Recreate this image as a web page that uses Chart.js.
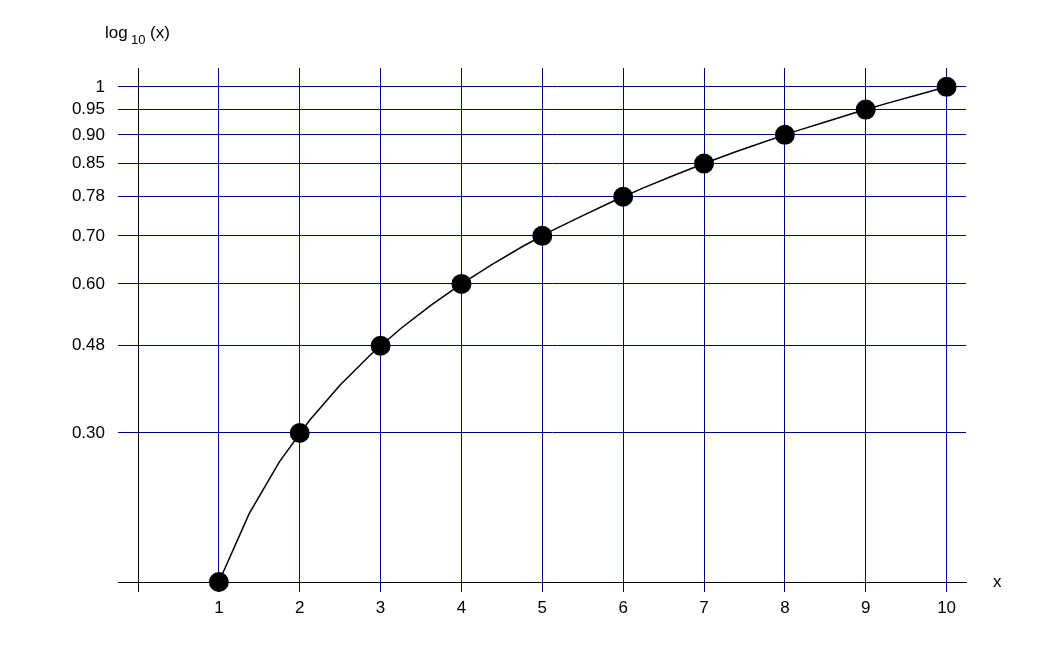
<!DOCTYPE html>
<html>
<head>
<meta charset="utf-8">
<script src="https://cdn.jsdelivr.net/npm/chart.js@4.4.0/dist/chart.umd.min.js"></script>
<style>
  body { margin: 0; background: #fff; }
</style>
</head>
<body>
<canvas id="myChart" width="1044" height="652"></canvas>
<script>
// curve samples (x, log10 x)
const curveX = [1, 1.375, 1.75, 2.125, 2.5, 2.875, 3.25, 3.625, 4, 4.375, 4.75, 5.125, 5.5, 5.875, 6.25, 6.625, 7, 7.375, 7.75, 8.125, 8.5, 8.875, 9.25, 9.625, 10];
const curveY = [0, 0.138, 0.243, 0.327, 0.398, 0.459, 0.512, 0.559, 0.602, 0.641, 0.677, 0.710, 0.740, 0.769, 0.796, 0.821, 0.845, 0.868, 0.889, 0.910, 0.929, 0.948, 0.966, 0.983, 1];

// marked points
const dotX = [1, 2, 3, 4, 5, 6, 7, 8, 9, 10];
const dotY = [0, 0.301, 0.477, 0.602, 0.699, 0.778, 0.845, 0.903, 0.954, 1];

// axis ticks
const xTicks = [0, 1, 2, 3, 4, 5, 6, 7, 8, 9, 10];
const xLabels = ['', '1', '2', '3', '4', '5', '6', '7', '8', '9', '10'];
const yTicks = [0, 0.301, 0.477, 0.602, 0.699, 0.778, 0.845, 0.903, 0.954, 1];
const yLabels = ['', '0.30', '0.48', '0.60', '0.70', '0.78', '0.85', '0.90', '0.95', '1'];

const FONT = "'Liberation Sans', Arial, sans-serif";
const NAVY = '#000080';

function gridColor(c) {
    return (c.tick && c.tick.value === 0) ? '#000' : NAVY;
}

const titles = {
    id: 'titles',
    afterDraw(chart) {
        const g = chart.ctx;
        g.save();
        g.fillStyle = '#000';
        g.textBaseline = 'alphabetic';
        g.textAlign = 'left';
        g.font = '17px ' + FONT;
        g.fillText('log', 105, 38);
        g.font = '13px ' + FONT;
        g.fillText('10', 131, 44);
        g.font = '17px ' + FONT;
        g.fillText('(x)', 150, 38);
        g.textBaseline = 'middle';
        g.fillText('x', 993, 582);
        g.restore();
    }
};

const ctx = document.getElementById('myChart').getContext('2d');

let myChart = new Chart(ctx, {
    type: 'line',
    data: {
        datasets: [{
            data: dotX.map((x, i) => ({x: x, y: dotY[i]})),
            showLine: false,
            pointRadius: 10,
            pointHoverRadius: 10,
            pointBackgroundColor: '#000',
            pointBorderColor: '#000',
            pointBorderWidth: 0,
            clip: false,
            order: 0
        }, {
            data: curveX.map((x, i) => ({x: x, y: curveY[i]})),
            borderColor: '#000',
            borderWidth: 1.5,
            pointRadius: 0,
            tension: 0,
            fill: false,
            clip: false,
            order: 1
        }]
    },
    options: {
        responsive: false,
        animation: false,
        layout: { padding: { left: 0, right: 78, top: 68, bottom: 0 } },
        plugins: {
            legend: { display: false },
            tooltip: { enabled: false }
        },
        scales: {
            x: {
                type: 'linear',
                min: 0,
                max: 10.24,
                afterBuildTicks: s => { s.ticks = xTicks.map(v => ({value: v})); },
                afterFit: s => { s.height = 70; },
                ticks: {
                    callback: (v, i) => xLabels[i],
                    color: '#000',
                    font: { family: FONT, size: 17 },
                    padding: 6,
                    maxRotation: 0,
                    autoSkip: false
                },
                grid: { color: gridColor, tickLength: 10, lineWidth: 1 },
                border: { display: true, color: '#000', width: 1 }
            },
            y: {
                type: 'linear',
                min: 0,
                max: 1.038,
                afterBuildTicks: s => { s.ticks = yTicks.map(v => ({value: v})); },
                afterFit: s => { s.width = 138; },
                ticks: {
                    callback: (v, i) => yLabels[i],
                    color: '#000',
                    font: { family: FONT, size: 17 },
                    padding: 13,
                    autoSkip: false
                },
                grid: { color: gridColor, tickLength: 20, lineWidth: 1 },
                border: { display: true, color: '#000', width: 1 }
            }
        }
    },
    plugins: [titles]
});
</script>
</body>
</html>
